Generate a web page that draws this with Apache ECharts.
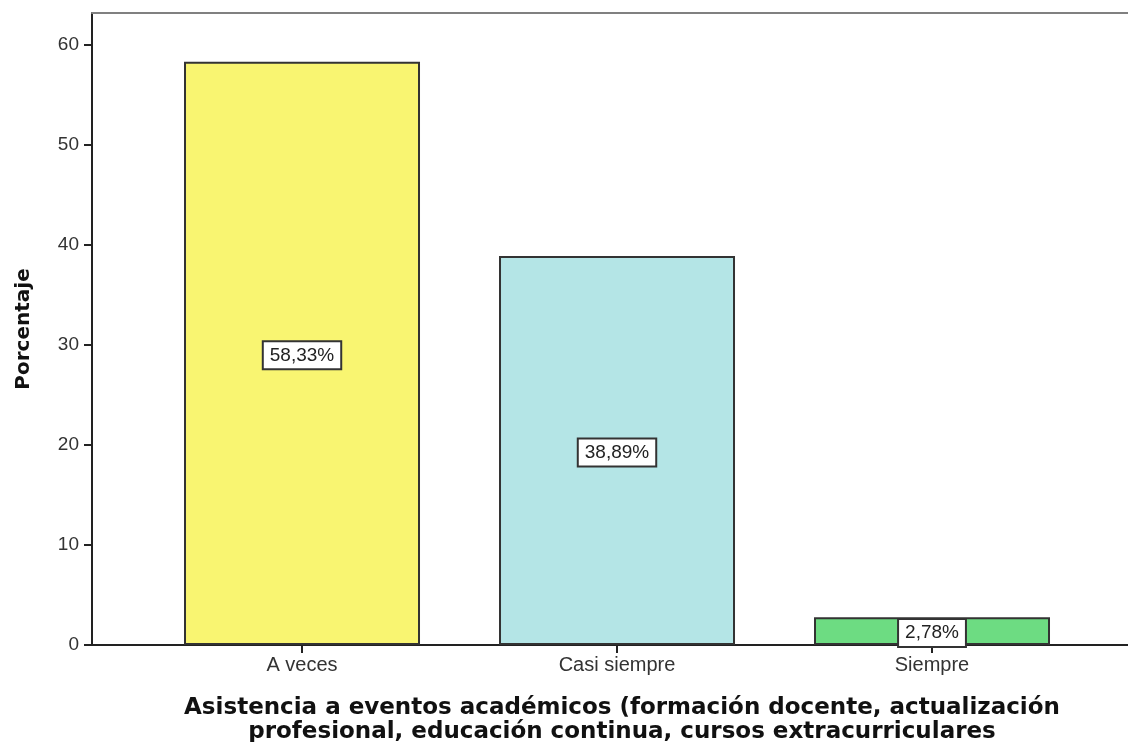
<!DOCTYPE html>
<html>
<head>
<meta charset="utf-8">
<script src="https://cdn.jsdelivr.net/npm/echarts@6/dist/echarts.min.js"></script>
<style>
  html, body { margin: 0; padding: 0; background: #fff; }
  #root { width: 1128px; height: 742px; }
</style>
</head>
<body>
<div id="root"></div>
<script>
// data
var categories = ['A veces', 'Casi siempre', 'Siempre'];
var percentages = [58.33, 38.89, 2.78];
var barColors = ['#f9f571', '#b4e5e6', '#6ddc82'];
var yTicks = [0, 10, 20, 30, 40, 50, 60];
var xTicks = [0, 1, 2];

var xTitle = 'Asistencia a eventos académicos (formación docente, actualización\nprofesional, educación continua, cursos extracurriculares';

(function () {
    var chart = echarts.init(document.getElementById('root'), null, { renderer: 'canvas' });

    var bars = percentages.map(function (v, i) {
        return {
            value: [i, v],
            itemStyle: { color: barColors[i] }
        };
    });

    var option = {
        animation: false,
        title: {
            text: xTitle,
            left: 617,
            top: 691,
            textAlign: 'center',
            textStyle: {
                fontFamily: 'DejaVu Sans',
                fontWeight: 'bold',
                fontSize: 23,
                lineHeight: 24,
                color: '#111'
            }
        },
        grid: { left: 92, top: 13, right: 0, bottom: 97 },
        xAxis: [{
            type: 'value',
            min: -0.6667,
            max: 2.6222,
            splitLine: { show: false },
            axisLine: { show: true, onZero: false, lineStyle: { color: '#222', width: 2 } },
            axisTick: {
                show: true, length: 8, customValues: xTicks,
                lineStyle: { color: '#222', width: 2 }
            },
            axisLabel: {
                customValues: xTicks,
                formatter: function (v) { return categories[Math.round(v)]; },
                fontFamily: 'Liberation Sans',
                fontSize: 20,
                color: '#333',
                margin: 10
            }
        }, {
            type: 'value',
            position: 'top',
            min: -0.6667,
            max: 2.6222,
            splitLine: { show: false },
            axisLine: { show: true, onZero: false, lineStyle: { color: '#808080', width: 2 } },
            axisTick: { show: false },
            axisLabel: { show: false }
        }],
        yAxis: {
            type: 'value',
            min: 0,
            max: 63.2,
            name: 'Porcentaje',
            nameLocation: 'middle',
            nameGap: 58,
            nameTextStyle: {
                fontFamily: 'DejaVu Sans',
                fontWeight: 'bold',
                fontSize: 20,
                color: '#111'
            },
            splitLine: { show: false },
            axisLine: { show: true, onZero: false, lineStyle: { color: '#222', width: 2 } },
            axisTick: {
                show: true, length: 8, customValues: yTicks,
                lineStyle: { color: '#222', width: 2 }
            },
            axisLabel: {
                customValues: yTicks,
                fontFamily: 'Liberation Sans',
                fontSize: 19,
                color: '#333',
                margin: 13
            }
        },
        series: [{
            type: 'bar',
            xAxisIndex: 0,
            barWidth: 236,
            data: bars,
            itemStyle: { borderColor: '#333', borderWidth: 2 },
            label: {
                show: true,
                position: 'inside',
                offset: [0, 2],
                formatter: function (p) {
                    return p.value[1].toFixed(2).replace('.', ',') + '%';
                },
                fontFamily: 'Liberation Sans',
                fontSize: 19,
                color: '#222',
                backgroundColor: '#fff',
                borderColor: '#333',
                borderWidth: 2,
                padding: [4, 6, 3, 6]
            }
        }]
    };

    chart.setOption(option);
})();
</script>
</body>
</html>
